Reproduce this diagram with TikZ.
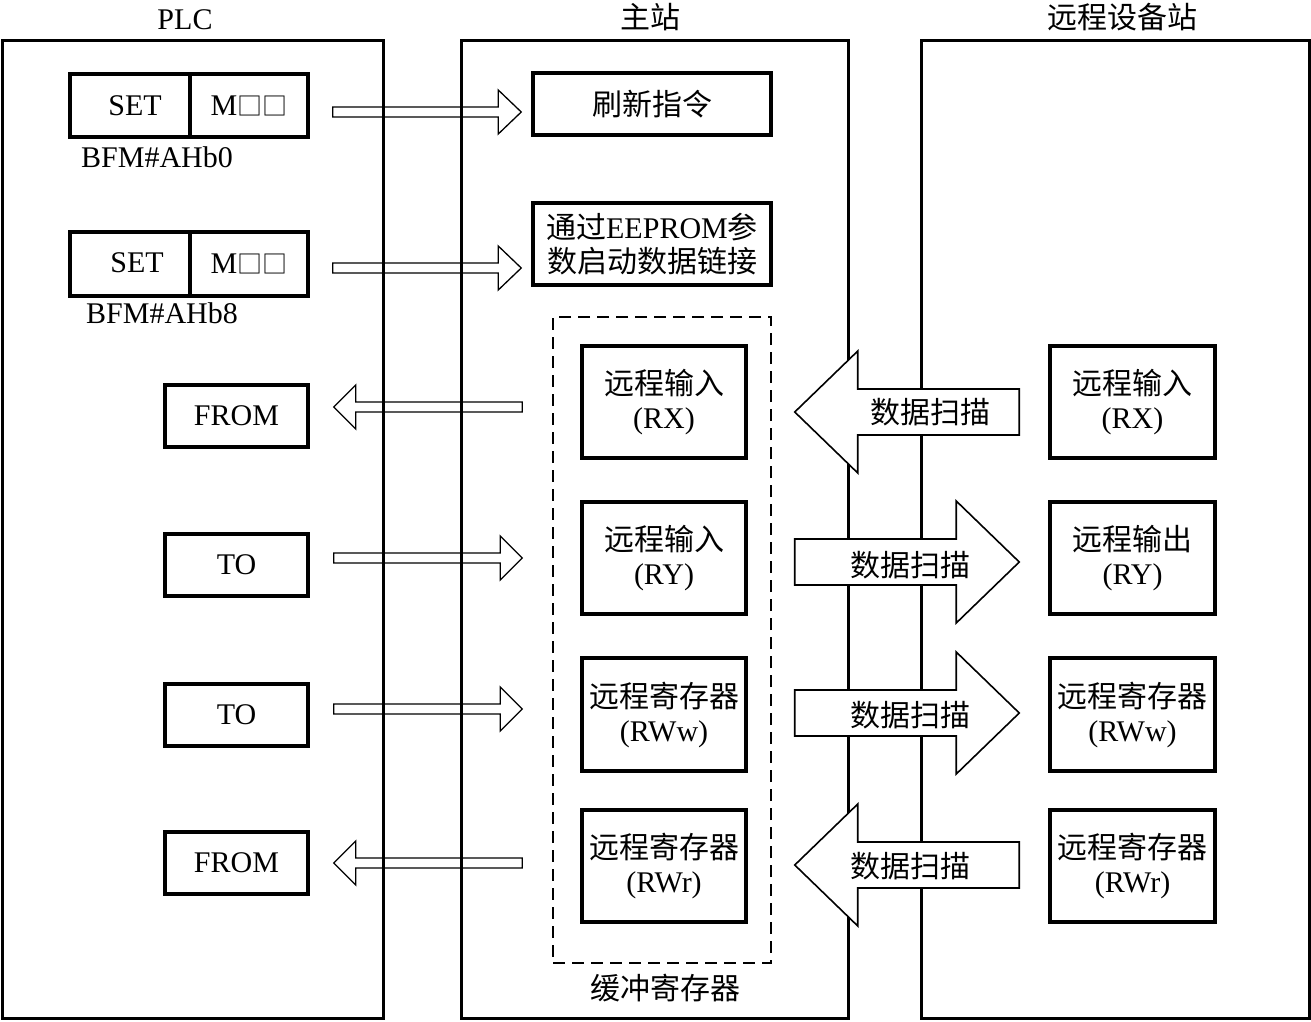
\documentclass[tikz,border=0pt]{standalone}
\usepackage{fontspec}
\setmainfont{Liberation Serif}
\newfontfamily\cjk{Noto Sans CJK SC}
\usetikzlibrary{calc}
% #1 style, #2 tail point, #3 tip point (x used), #4 shaft half width, #5 head half width, #6 signed head length
\newcommand\blkarrow[6]{\path[#1] let \p1=#2, \p2=#3 in
  ({\x1},{\y1+#4}) -- ({\x2-(#6)},{\y1+#4}) -- ({\x2-(#6)},{\y1+#5}) -- ({\x2},{\y1})
  -- ({\x2-(#6)},{\y1-#5}) -- ({\x2-(#6)},{\y1-#4}) -- ({\x1},{\y1-#4}) -- cycle;}
\newcommand\sq{{\cjk\fontsize{25}{25}\selectfont □□}}
\begin{document}
\begin{tikzpicture}[x=1pt,y=-1pt,
  txt/.style={font=\fontsize{30}{34}\selectfont, inner sep=0pt, align=center},
  column/.style={draw, line width=3pt, inner sep=0pt},
  box/.style={draw, line width=3.5pt, inner sep=0pt, align=center, font=\fontsize{30}{34}\selectfont},
  smallarr/.style={draw, line width=1.3pt},
  bigarr/.style={draw, line width=1.6pt, fill=white},
  buffer/.style={draw, line width=1.3pt, dash pattern=on 12pt off 7pt, inner sep=0pt}]
\useasboundingbox (0,0) rectangle (1311,1021);

% columns
\node[column, minimum width=381, minimum height=978] (plc) at (192.5,529) {};
\node[column, minimum width=387, minimum height=978] (ms) at (654.5,529) {};
\node[column, minimum width=388, minimum height=978] (rs) at (1115,529) {};
\node[txt] (plcH) at (185,20) {PLC};
\node[txt] (msH) at (650,17) {\cjk 主站};
\node[txt] (rsH) at (1122,17) {\cjk 远程设备站};

% PLC side
\node[box, minimum width=120, minimum height=63] (set1a) at (130,105.5) {\hspace*{10pt}SET};
\node[box, minimum width=118, minimum height=63] (set1b) at (249,105.5) {M\sq};
\node[txt] (bfm1) at (157,157) {BFM\#AHb0};
\node[box, minimum width=120, minimum height=64] (set2a) at (130,264) {\hspace*{14pt}\raisebox{3pt}{SET}};
\node[box, minimum width=118, minimum height=64] (set2b) at (249,264) {M\sq};
\node[txt] (bfm2) at (162,313) {BFM\#AHb8};
\node[box, minimum width=143, minimum height=62] (from1) at (236.5,416) {FROM};
\node[box, minimum width=143, minimum height=62] (to1) at (236.5,565) {TO};
\node[box, minimum width=143, minimum height=62] (to2) at (236.5,715) {TO};
\node[box, minimum width=143, minimum height=62] (from2) at (236.5,863) {FROM};

% master station
\node[box, minimum width=238, minimum height=62] (refresh) at (652,104) {\cjk 刷新指令};
\node[box, minimum width=238, minimum height=82] (eeprom) at (652,244) {{\cjk 通过}EEPROM{\cjk 参}\\{\cjk 数启动数据链接}};
\node[buffer, minimum width=218, minimum height=646] (buf) at (662,640) {};
\node[txt] (bufL) at (665,988) {\cjk 缓冲寄存器};
\node[box, minimum width=164, minimum height=112] (rx) at (664,402) {{\cjk 远程输入}\\(RX)};
\node[box, minimum width=164, minimum height=112] (ry) at (664,558) {{\cjk 远程输入}\\(RY)};
\node[box, minimum width=164, minimum height=113] (rww) at (664,714.5) {{\cjk 远程寄存器}\\(RWw)};
\node[box, minimum width=164, minimum height=112] (rwr) at (664,866) {{\cjk 远程寄存器}\\(RWr)};

% remote station
\node[box, minimum width=165, minimum height=112] (rrx) at (1132.5,402) {{\cjk 远程输入}\\(RX)};
\node[box, minimum width=165, minimum height=112] (rry) at (1132.5,558) {{\cjk 远程输出}\\(RY)};
\node[box, minimum width=165, minimum height=113] (rrww) at (1132.5,714.5) {{\cjk 远程寄存器}\\(RWw)};
\node[box, minimum width=165, minimum height=112] (rrwr) at (1132.5,866) {{\cjk 远程寄存器}\\(RWr)};

% small arrows PLC <-> master
\blkarrow{smallarr}{($(set1b.east)+(23,6.5)$)}{($(refresh.west)+(-10,0)$)}{5pt}{22pt}{23pt}
\blkarrow{smallarr}{($(set2b.east)+(23,4)$)}{($(eeprom.west)+(-10,0)$)}{5pt}{22pt}{23pt}
\blkarrow{smallarr}{($(rx.west)+(-58,5)$)}{($(from1.east)+(24,0)$)}{5pt}{22pt}{-22pt}
\blkarrow{smallarr}{($(to1.east)+(24,-7)$)}{($(ry.west)+(-58,0)$)}{5pt}{22pt}{22pt}
\blkarrow{smallarr}{($(to2.east)+(24,-6)$)}{($(rww.west)+(-58,0)$)}{5pt}{22pt}{22pt}
\blkarrow{smallarr}{($(rwr.west)+(-58,-3)$)}{($(from2.east)+(24,0)$)}{5pt}{22pt}{-22pt}

% big arrows master <-> remote
\blkarrow{bigarr}{($(rrx.west)+(-29,10)$)}{($(rx.east)+(47,0)$)}{23pt}{61pt}{-63pt}
\blkarrow{bigarr}{($(ry.east)+(47,4)$)}{($(rry.west)+(-29,0)$)}{23pt}{61pt}{63pt}
\blkarrow{bigarr}{($(rww.east)+(47,-1.5)$)}{($(rrww.west)+(-29,0)$)}{23pt}{61pt}{63pt}
\blkarrow{bigarr}{($(rrwr.west)+(-29,-1)$)}{($(rwr.east)+(47,0)$)}{23pt}{61pt}{-63pt}
\node[txt] (lblA) at (930,412) {\cjk 数据扫描};
\node[txt] (lblB) at (910,565) {\cjk 数据扫描};
\node[txt] (lblC) at (910,715) {\cjk 数据扫描};
\node[txt] (lblD) at (910,866) {\cjk 数据扫描};
\end{tikzpicture}
\end{document}
